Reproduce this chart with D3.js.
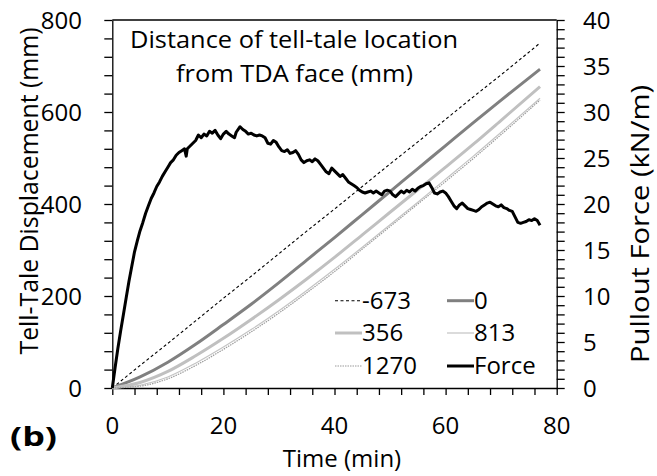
<!DOCTYPE html>
<html><head><meta charset="utf-8">
<script src="https://cdn.jsdelivr.net/npm/d3@7"></script>
<style>body{margin:0;background:#fff}svg{display:block}text{font-family:"Open Sans",sans-serif;fill:#000}</style>
</head><body><svg id="c" width="657" height="476"></svg>
<script>
// ---- data ----
const time = [0,5,10,15,20,25,30,35,40,45,50,55,60,65,70,77];
const tt_m673 = [0,49,97,146,195,243,292,341,389,438,487,535,584,633,681,750];
const tt_0    = [0,24,56,95,138,182,229,278,327,377,427,477,527,577,626,693];
const tt_356  = [0,12,36,70,108,149,192,237,284,333,382,431,480,530,582,655];
const tt_813  = [0,6,24,54,89,127,168,212,258,306,355,404,454,504,556,630];
const tt_1270 = [0,4,20,49,84,122,163,207,253,302,351,400,449,499,551,626];
const forceTime = [0,0.5,1,1.5,2,2.5,3,3.5,4,4.5,5,5.5,6,6.5,7,7.5,8,8.5,9,9.5,10,10.5,11,11.5,12,12.5,13,13.3,13.5,14,14.5,15,15.5,16,16.5,17,17.5,18,18.5,19,19.5,20,20.5,21,21.5,22,22.3,23,23.5,24,24.5,25,25.5,26,26.5,27,27.5,28,28.5,29,29.5,30,30.5,31,31.5,32,32.5,33,33.5,34,34.5,35,35.5,36,36.5,37,37.5,38,38.5,39,39.5,40,40.5,41,41.5,42,42.5,43,43.5,44,44.5,45,45.5,46,46.5,47,47.5,48,48.5,49,49.5,50,50.5,51,51.5,52,52.5,53,53.5,54,54.5,55,55.5,56,56.5,57,57.5,58,58.5,59,59.5,60,60.5,61,61.5,62,62.5,63,63.5,64,64.5,65,65.5,66,66.5,67,67.5,68,68.5,69,69.5,70,70.5,71,71.5,72,72.5,73,73.5,74,74.5,75,75.5,76,76.5,77];
const forceVal = [0,2.2,4.3,6.2,8.0,9.8,11.6,13.2,14.8,16.0,17.1,18.0,19.0,19.8,20.6,21.2,21.9,22.4,23.0,23.5,24.0,24.5,24.8,25.3,25.6,25.8,26.0,25.2,26.0,26.3,26.6,26.9,27.5,27.2,27.6,27.4,27.9,27.7,28.0,27.5,27.1,27.6,27.9,27.6,27.4,27.2,27.8,28.4,28.1,27.9,27.6,27.7,27.5,27.4,27.5,27.4,27.2,26.6,26.5,26.9,26.7,26.2,25.8,25.7,25.9,25.5,25.6,25.8,25.4,24.8,24.5,24.7,24.8,24.6,24.9,24.7,24.3,23.9,23.5,23.3,23.9,23.6,23.3,23.0,23.2,22.8,22.4,22.2,22.0,21.8,21.5,21.3,21.2,21.3,21.4,21.2,21.4,21.2,21.0,21.4,21.5,21.4,21.0,20.8,21.1,21.4,21.2,21.5,21.3,21.6,21.4,21.7,21.9,22.0,22.2,22.3,21.8,21.2,21.1,21.3,21.4,21.2,20.8,20.3,19.8,19.5,19.9,20.1,19.8,19.5,19.4,19.3,19.2,19.4,19.7,19.9,20.1,20.2,20.0,19.8,19.7,19.9,19.6,19.5,19.3,19.2,18.6,18.0,17.9,18.0,18.1,18.3,18.2,18.4,18.2,17.7];
const xTicks = [0,20,40,60,80];
const yLeftTicks = [0,200,400,600,800];
const yRightTicks = [0,5,10,15,20,25,30,35,40];
const seriesNames = ["-673","0","356","813","1270","Force"];

// ---- scales ----
const svg = d3.select("#c");
const x = d3.scaleLinear().domain([0,80]).range([112.3,556.7]);
const yL = d3.scaleLinear().domain([0,800]).range([388,20]);
const yR = d3.scaleLinear().domain([0,40]).range([388,20]);

const styles = [
  {stroke:"#000", w:1.1, dash:"3,2.5"},
  {stroke:"#808080", w:3, dash:null},
  {stroke:"#c0c0c0", w:3, dash:null},
  {stroke:"#c4c4c4", w:1.2, dash:null},
  {stroke:"#9a9a9a", w:1.2, dash:"1.5,1"},
  {stroke:"#000", w:3, dash:null}
];
const ttData = [tt_m673, tt_0, tt_356, tt_813, tt_1270];

// plot frame top
svg.append("line").attr("x1",x(0)).attr("x2",x(80)).attr("y1",yL(800)).attr("y2",yL(800)).attr("stroke","#000").attr("stroke-width",1.3);

// axes (ticks only)
const axL = svg.append("g").attr("transform",`translate(${x(0)},0)`)
  .call(d3.axisLeft(yL).tickValues(d3.range(0,801,40)).tickSize(8).tickSizeOuter(0).tickFormat(""));
const axR = svg.append("g").attr("transform",`translate(${x(80)},0)`)
  .call(d3.axisRight(yR).tickValues(d3.range(0,41,1)).tickSize(8).tickSizeOuter(0).tickFormat(""));
const axB = svg.append("g").attr("transform",`translate(0,${yL(0)})`)
  .call(d3.axisBottom(x).tickValues(d3.range(0,81,4)).tickSize(7).tickSizeOuter(0).tickFormat(""));
[axL,axR,axB].forEach(g=>{g.selectAll("path,line").attr("stroke","#000").attr("stroke-width",1.3);});

// tick labels
svg.selectAll(".yl").data(yLeftTicks).enter().append("text")
  .attr("x",82).attr("y",d=>yL(d)).attr("dy","0.36em").attr("text-anchor","end").attr("font-size",24).text(d=>d);
svg.selectAll(".yr").data(yRightTicks).enter().append("text")
  .attr("x",583).attr("y",d=>yR(d)).attr("dy","0.36em").attr("text-anchor","start").attr("font-size",24).text(d=>d);
svg.selectAll(".xl").data(xTicks).enter().append("text")
  .attr("x",d=>x(d)).attr("y",434).attr("text-anchor","middle").attr("font-size",24).text(d=>d);

// titles
svg.append("text").attr("x",342).attr("y",467).attr("text-anchor","middle").attr("font-size",24).text("Time (min)");
svg.append("text").attr("transform","translate(38,191) rotate(-90)").attr("text-anchor","middle").attr("font-size",25)
  .attr("textLength",327).attr("lengthAdjust","spacingAndGlyphs").text("Tell-Tale Displacement  (mm)");
svg.append("text").attr("transform","translate(649,224) rotate(-90)").attr("text-anchor","middle").attr("font-size",25)
  .attr("textLength",278).attr("lengthAdjust","spacingAndGlyphs").text("Pullout Force (kN/m)");
svg.append("text").attr("x",10).attr("y",446).attr("font-size",27).attr("font-weight","bold")
  .attr("textLength",47).attr("lengthAdjust","spacingAndGlyphs").text("(b)");
svg.append("text").attr("x",130).attr("y",48).attr("font-size",24)
  .attr("textLength",328).attr("lengthAdjust","spacingAndGlyphs").text("Distance of tell-tale location");
svg.append("text").attr("x",176).attr("y",82).attr("font-size",24)
  .attr("textLength",237).attr("lengthAdjust","spacingAndGlyphs").text("from TDA face (mm)");

// tell-tale lines
const lineL = d3.line().x(d=>x(d[0])).y(d=>yL(d[1])).curve(d3.curveMonotoneX);
ttData.forEach((arr,i)=>{
  const p = svg.append("path").datum(time.map((t,k)=>[t,arr[k]])).attr("d",lineL)
    .attr("fill","none").attr("stroke",styles[i].stroke).attr("stroke-width",styles[i].w);
  if(styles[i].dash) p.attr("stroke-dasharray",styles[i].dash);
});
// force
const lineR = d3.line().x(d=>x(d[0])).y(d=>yR(d[1]));
svg.append("path").datum(forceTime.map((t,k)=>[t,forceVal[k]])).attr("d",lineR)
  .attr("fill","none").attr("stroke","#000").attr("stroke-width",styles[5].w).attr("stroke-linejoin","round");

// legend
const legPos = [[335,300.7],[447,300.7],[335,333],[447,333],[335,366],[447,366]];
seriesNames.forEach((n,i)=>{
  const [lx,ly]=legPos[i];
  const l = svg.append("line").attr("x1",lx).attr("x2",lx+27).attr("y1",ly).attr("y2",ly)
    .attr("stroke",styles[i].stroke).attr("stroke-width",styles[i].w);
  if(styles[i].dash) l.attr("stroke-dasharray",styles[i].dash);
  svg.append("text").attr("x",lx+27).attr("y",ly+8).attr("font-size",24).text(n);
});
</script></body></html>
